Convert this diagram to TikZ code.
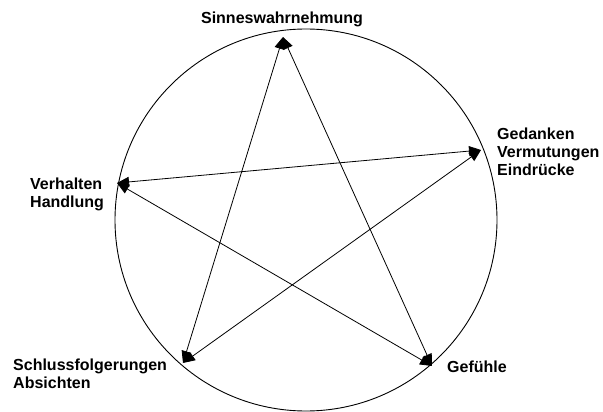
\documentclass[tikz,border=0pt]{standalone}
\usepackage{fontspec}
\setmainfont{Liberation Sans}
\usetikzlibrary{arrows.meta,positioning}
\tikzset{
  lbl/.style={font=\bfseries\fontsize{16}{17.8}\selectfont,align=left,inner sep=0pt},
  twoway/.style={{Triangle[length=12pt,width=10pt]}-{Triangle[length=12pt,width=10pt]},line width=0.8pt},
}

\begin{document}
\begin{tikzpicture}[x=1pt,y=-1pt]
    \useasboundingbox (0,0) rectangle (603,412);
    \coordinate (mid) at (306,220);
    \draw[line width=0.9pt] (mid) circle (191pt);
    % star points
    \coordinate (sinn) at (283,37);
    \coordinate (ged)  at (481,150);
    \coordinate (verh) at (117,183);
    \coordinate (schl) at (183,363);
    \coordinate (gef)  at (432,366);
    % labels
    \node[lbl,anchor=north] (sinnlbl) at (282,12) {Sinneswahrnehmung};
    \node[lbl,anchor=north west] (gedlbl) at (497,128) {Gedanken\\Vermutungen\\Eindrücke};
    \node[lbl,anchor=north west] (verhlbl) at (30,178) {Verhalten\\Handlung};
    \node[lbl,anchor=north west] (schllbl) at (13,359) {Schlussfolgerungen\\Absichten};
    \node[lbl,anchor=north west] (geflbl) at (447,361) {Gefühle};
    % connectors
    \draw[twoway] (sinn) -- (schl);
    \draw[twoway] (sinn) -- (gef);
    \draw[twoway] (ged) -- (verh);
    \draw[twoway] (ged) -- (schl);
    \draw[twoway] (verh) -- (gef);
\end{tikzpicture}
\end{document}
